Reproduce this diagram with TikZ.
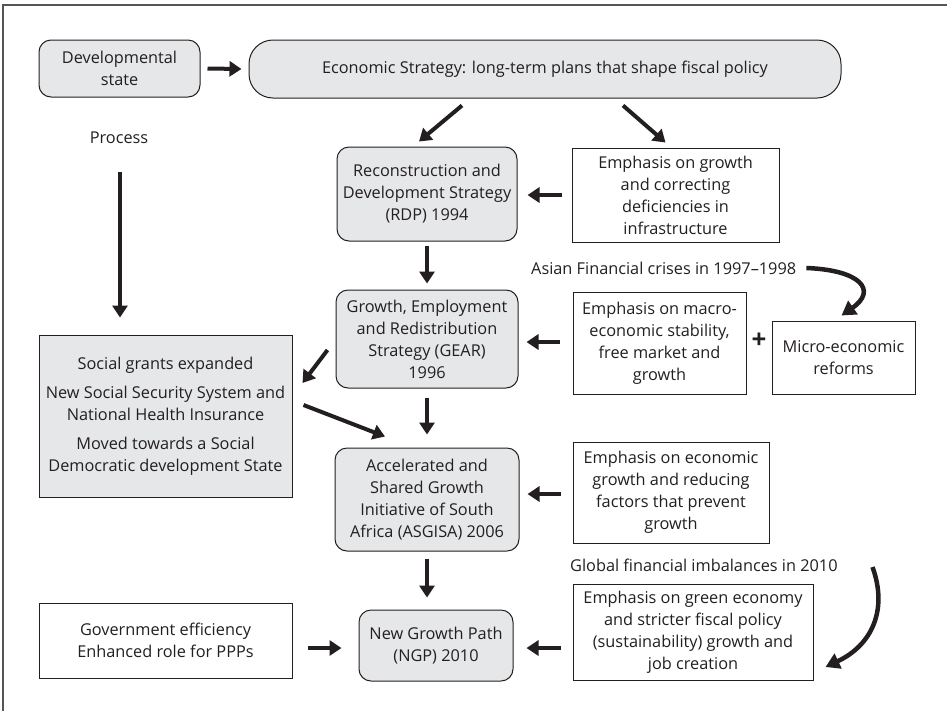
\documentclass[tikz,border=0pt]{standalone}
\usepackage{fontspec}
\setmainfont{Open Sans}
\usetikzlibrary{arrows.meta,calc}
\definecolor{ink}{HTML}{231F20}
\definecolor{boxgray}{HTML}{E6E7E8}
\definecolor{framegray}{HTML}{555555}
\begin{document}
\begin{tikzpicture}[x=1pt,y=-1pt,
  every node/.style={font=\fontsize{16.3}{22}\selectfont, text=ink},
  rbox/.style={draw=ink, line width=1pt, fill=boxgray, rounded corners=12pt, align=center, inner sep=0pt},
  sbox/.style={draw=ink, line width=1pt, fill=white, align=center, inner sep=0pt},
  plain/.style={align=center, inner sep=0pt},
  arr/.style={draw=ink, line width=4pt, -{Triangle[width=15pt,length=12pt]}},
  carr/.style={draw=ink, line width=4.5pt, -{Triangle[width=16pt,length=14pt]}}
]
\useasboundingbox (0,0) rectangle (947,710);
\draw[framegray, line width=1.5pt] (3,5) rectangle (960,725);

% nodes
\node[rbox, minimum width=161pt, minimum height=57pt] (dev) at (119.5,68.5) {Developmental\\state};
\node[rbox, rounded corners=24pt, minimum width=592pt, minimum height=58pt] (econ) at (545,69) {Economic Strategy: long-term plans that shape fiscal policy};
\node[plain] (process) at (119,138) {Process};
\node[rbox, minimum width=180pt, minimum height=94pt] (rdp) at (427,194) {Reconstruction and\\Development Strategy\\(RDP) 1994};
\node[rbox, minimum width=182pt, minimum height=98pt] (gear) at (427,339) {Growth, Employment\\and Redistribution\\Strategy (GEAR)\\1996};
\node[rbox, minimum width=184pt, minimum height=103pt] (asgisa) at (427,499.5) {Accelerated and\\Shared Growth\\Initiative of South\\Africa (ASGISA) 2006};
\node[rbox, minimum width=154pt, minimum height=71pt] (ngp) at (436,645.5) {New Growth Path\\(NGP) 2010};
\node[sbox, fill=boxgray, minimum width=253pt, minimum height=162pt] (social) at (165.5,416) {Social grants expanded\\[7pt]New Social Security System and\\National Health Insurance\\[7pt]Moved towards a Social\\Democratic development State};
\node[sbox, minimum width=253pt, minimum height=75pt] (gov) at (165.5,640.5) {Government efficiency\\Enhanced role for PPPs};
\node[sbox, minimum width=207pt, minimum height=94pt] (emph) at (675.5,195) {Emphasis on growth\\and correcting\\deficiencies in\\infrastructure};
\node[plain, anchor=west] (asian) at (531,268) {Asian Financial crises in 1997--1998};
\node[sbox, minimum width=173pt, minimum height=102pt] (macro) at (659.5,343) {Emphasis on macro-\\economic stability,\\free market and\\growth};
\node[plain, font=\fontsize{26}{26}\selectfont\bfseries] (plus) at (759,341) {+};
\node[sbox, minimum width=143pt, minimum height=73pt] (micro) at (843.5,357.5) {Micro-economic\\reforms};
\node[sbox, minimum width=196pt, minimum height=101pt] (egrowth) at (671,492.5) {Emphasis on economic\\growth and reducing\\factors that prevent\\growth};
\node[plain, anchor=west] (global) at (570,565) {Global financial imbalances in 2010};
\node[sbox, minimum width=240pt, minimum height=96pt] (green) at (693,632) {Emphasis on green economy\\and stricter fiscal policy\\(sustainability) growth and\\job creation};

% connectors
\draw[arr] ($(dev.east)+(7,0)$) -- ($(econ.west)+(-7,0)$);
\draw[arr] ($(econ.south)+(-83,7)$) -- ($(rdp.north)+(-8,-5)$);
\draw[arr] ($(econ.south)+(78,7)$) -- ($(emph.north)+(-10,-5)$);
\draw[arr] ($(emph.west)+(-10,0)$) -- ($(rdp.east)+(10,1)$);
\draw[arr] ($(rdp.south)+(0,4)$) -- ($(gear.north)+(0,-6)$);
\draw[arr] ($(macro.west)+(-13,-1)$) -- ($(gear.east)+(8,3)$);
\draw[arr] ($(gear.west)+(-8,11)$) -- ($(social.east)+(10,-33)$);
\draw[arr] ($(social.east)+(11,-11)$) -- ($(asgisa.north)+(-42,-11)$);
\draw[arr] ($(gear.south)+(0,9)$) -- ($(asgisa.north)+(0,-13)$);
\draw[arr] ($(egrowth.west)+(-12,1.5)$) -- ($(asgisa.east)+(8,-5.5)$);
\draw[arr] ($(asgisa.south)+(0,7)$) -- ($(ngp.north)+(-9,-12)$);
\draw[arr] ($(green.west)+(-12,16)$) -- ($(ngp.east)+(13,2.5)$);
\draw[arr] ($(gov.east)+(15,7.5)$) -- ($(ngp.west)+(-17,2.5)$);
\draw[arr] ($(process.south)+(1,28)$) -- ($(social.north)+(-45.5,-17)$);
\draw[carr] ($(asian.east)+(10,0)$) .. controls (860,270) and (878,290) .. ($(micro.north)+(-2,-5)$);
\draw[carr] ($(green.east)+(59,-65)$) .. controls (888,610) and (872,645) .. ($(green.east)+(12,35)$);
\end{tikzpicture}
\end{document}
